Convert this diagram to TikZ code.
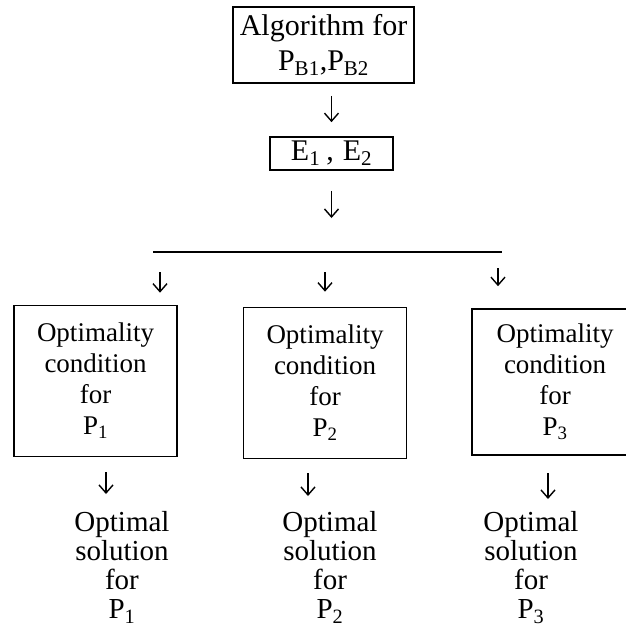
\documentclass[tikz,border=0pt]{standalone}
\usepackage{fontspec}
\setmainfont{Liberation Serif}
\usetikzlibrary{arrows.meta}

\begin{document}
\begin{tikzpicture}[x=1pt,y=-1pt,>={Straight Barb[length=8pt,width=14pt]},line width=1.6pt]

  \useasboundingbox (0,0) rectangle (625,633);

  \tikzstyle{head}=[draw,inner sep=0pt,align=center,
    font=\fontsize{30}{35}\selectfont]

  \tikzstyle{cond}=[draw,inner sep=0pt,align=center,
    minimum width=163pt,minimum height=151pt,
    font=\fontsize{27}{31}\selectfont]

  \tikzstyle{sol}=[inner sep=0pt,align=center,anchor=north,
    font=\fontsize{29}{29}\selectfont]

  \tikzstyle{flow}=[->,line width=1.4pt]

  \node  (alg) at (323.5,45)  [head,minimum width=181pt,minimum height=76pt]
         {Algorithm for\\P\textsubscript{B1},P\textsubscript{B2}};

  \node  (e)   at (331.5,153.5) [head,minimum width=123pt,minimum height=33pt]
         {E\textsubscript{1}\hspace{6pt},\hspace{9pt}E\textsubscript{2}};

  \coordinate (bl) at (153,252);
  \coordinate (br) at (502,252);
  \coordinate (j1) at (160,252);
  \coordinate (j2) at (325,252);
  \coordinate (j3) at (498,252);

  \node  (c1)  at (95.5,381)  [cond] {Optimality\\condition\\for\\P\textsubscript{1}};
  \node  (c2)  at (325,383)   [cond] {Optimality\\condition\\for\\P\textsubscript{2}};
  \node  (c3)  at (555,382)   [cond,minimum width=166pt,minimum height=146pt]
         {Optimality\\condition\\for\\P\textsubscript{3}};

  \node  (s1)  at (122,511)   [sol] {Optimal\\solution\\for\\P\textsubscript{1}};
  \node  (s2)  at (330,511)   [sol] {Optimal\\solution\\for\\P\textsubscript{2}};
  \node  (s3)  at (531,511)   [sol] {Optimal\\solution\\for\\P\textsubscript{3}};

  \coordinate (d1) at (106,457);
  \coordinate (d2) at (308,458);
  \coordinate (d3) at (548,455);

  \draw (bl) -- (br);

  \path (alg.south -| e.north) edge [flow,shorten <=12pt,shorten >=14pt] (e.north)
        (e.south) edge [flow,shorten <=20pt,shorten >=34pt] (e.south |- bl)

        (j1) edge [flow,shorten <=20pt,shorten >=12pt] (j1 |- c1.north)
        (j2) edge [flow,shorten <=20pt,shorten >=15pt] (j2 |- c2.north)
        (j3) edge [flow,shorten <=16pt,shorten >=22pt] (j3 |- c3.north)

        (d1) edge [flow,shorten <=15pt,shorten >=17pt] (d1 |- s1.north)
        (d2) edge [flow,shorten <=15pt,shorten >=15pt] (d2 |- s2.north)
        (d3) edge [flow,shorten <=18pt,shorten >=12pt] (d3 |- s3.north);

\end{tikzpicture}
\end{document}
